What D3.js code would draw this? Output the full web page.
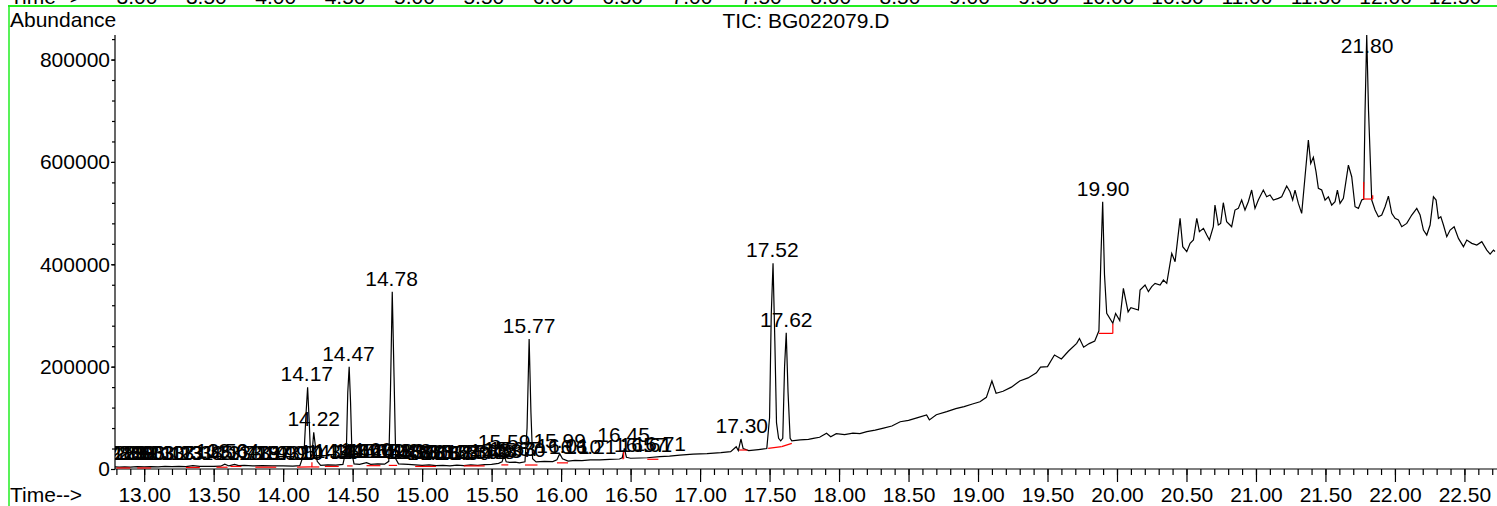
<!DOCTYPE html>
<html>
<head>
<meta charset="utf-8">
<script src="https://cdn.jsdelivr.net/npm/d3@7"></script>
<style>
  body { margin: 0; background: #fff; }
  svg { display: block; font-family: "Liberation Sans", Arial, sans-serif; }
</style>
</head>
<body>
<script>
// chromatogram trace (minutes, abundance)
var traceTime = [12.79,12.82,12.86,12.90,12.95,13.00,13.05,13.10,13.15,13.20,13.25,13.30,13.35,13.40,13.45,13.50,13.55,13.58,13.61,13.65,13.68,13.72,13.78,13.85,13.92,14.00,14.07,14.12,
  14.15,14.165,14.176,14.188,14.198,14.208,14.22,14.232,14.245,14.27,14.32,14.38,14.43,14.455,14.465,14.475,14.485,14.495,14.51,14.55,14.60,14.63,14.68,14.73,14.76,14.772,14.785,14.798,14.81,14.83,
  14.90,14.95,15.00,15.05,15.10,15.15,15.20,15.25,15.30,15.35,15.40,15.45,15.50,15.55,15.575,15.59,15.605,15.63,15.67,15.70,15.74,15.755,15.77,15.783,15.795,15.82,15.88,15.94,15.97,15.99,16.01,
  16.05,16.10,16.15,16.21,16.28,16.35,16.42,16.44,16.455,16.47,16.50,16.57,16.62,16.71,16.78,16.855,16.95,17.05,17.15,17.22,17.26,17.275,17.294,17.31,17.35,17.42,17.48,17.50,17.512,17.525,17.538,
  17.55,17.565,17.58,17.595,17.608,17.62,17.633,17.648,17.66,17.72,17.78,17.815,17.86,17.91,17.94,17.98,18.04,18.10,18.15,18.20,18.26,18.32,18.38,18.44,18.50,18.56,18.63,18.65,18.70,18.775,18.84,
  18.90,18.96,19.014,19.06,19.10,19.13,19.18,19.24,19.30,19.36,19.42,19.45,19.50,19.55,19.60,19.65,19.71,19.73,19.76,19.80,19.84,19.87,19.885,19.897,19.91,19.926,19.97,19.99,20.02,20.046,20.08,
  20.10,20.154,20.166,20.202,20.226,20.250,20.274,20.310,20.334,20.358,20.394,20.418,20.454,20.473,20.502,20.526,20.550,20.574,20.593,20.622,20.646,20.665,20.693,20.705,20.729,20.746,20.765,20.789,
  20.813,20.825,20.849,20.873,20.897,20.921,20.945,20.969,20.993,21.017,21.053,21.077,21.101,21.125,21.161,21.185,21.221,21.245,21.264,21.281,21.305,21.329,21.353,21.377,21.394,21.413,21.432,21.449,
  21.473,21.497,21.521,21.545,21.569,21.586,21.605,21.629,21.665,21.689,21.713,21.737,21.761,21.775,21.785,21.797,21.81,21.833,21.857,21.881,21.905,21.929,21.953,21.977,22.001,22.025,22.049,22.085,
  22.121,22.157,22.181,22.205,22.229,22.253,22.277,22.296,22.313,22.33,22.349,22.373,22.397,22.426,22.457,22.493,22.517,22.553,22.589,22.625,22.661,22.685,22.709,22.72];
var traceAbund = [4000,3500,4200,3600,4500,4000,4800,4200,5000,4500,5200,4800,6500,5000,5200,5000,5500,9500,6000,9000,6500,7000,6000,6500,6000,6000,5500,6500,
  30000,110000,159600,90000,20000,30000,71700,45000,15000,7000,8000,7500,9000,40000,150000,199800,130000,30000,10000,9000,12500,9000,10000,9500,15000,150000,346400,180000,20000,10000,
  9000,8000,7000,8000,6500,7000,6000,7500,6500,8000,7000,8500,9000,11000,14000,27000,14000,13000,13500,12000,14000,80000,254000,110000,20000,14000,15000,14500,18000,30000,20000,
  15500,17000,16500,18000,18000,19000,19500,22000,40500,23000,21000,21500,22000,24000,25000,27000,29000,30000,32000,34000,43600,36000,58600,40000,36000,38000,40000,100000,300000,401800,250000,
  90000,60000,55000,60000,200000,266300,150000,60000,55000,57000,58000,60000,62000,69700,63000,69000,67000,70000,69000,73000,76000,80000,84000,92400,95000,100000,105500,96000,106000,112000,118000,
  122000,127000,131500,140000,172000,148000,152000,160000,172000,178000,188000,199000,200000,222700,215000,230000,245500,255000,238000,245000,250000,270000,420000,522200,380000,304000,284600,304000,290000,353000,307000,
  315000,310600,349700,359500,346500,356200,362700,359500,369200,362700,421300,405000,489700,434400,424600,440900,447400,489700,463700,470200,457100,447400,473400,515700,476700,479900,520300,483200,
  476700,473400,506000,509200,525500,506000,522300,545100,509200,525500,545100,532000,535300,525500,528800,532000,552900,541800,525500,545100,519000,499500,571100,642700,597100,608900,580900,548300,
  545100,525500,532000,515700,522300,545100,519000,528800,593900,571100,512500,509200,525500,527500,700000,847900,700000,525500,506000,493000,496200,512500,533300,499500,489700,486500,473400,479900,
  496200,509200,496200,466900,457100,476700,532000,525500,489700,493000,476700,453900,466900,473400,450600,434400,447400,440900,437600,444100,427800,420000,427800,425000];

// integration baselines (red): start time, start abundance, end time, end abundance
var baseStart = [12.80,12.95,13.30,13.52,13.62,13.80,14.10,14.20,14.30,14.46,14.60,14.76,14.95,15.30,15.57,15.74,15.97,16.44,16.62,17.28,17.49,17.587,19.87,21.775];
var baseStartV = [2000,2000,3000,3500,5000,3500,3500,4000,5000,6000,6500,7000,5000,6000,8000,7800,12000,20000,19000,37100,40400,43600,265000,527500];
var baseEnd = [12.90,13.05,13.40,13.60,13.70,13.95,14.20,14.26,14.40,14.50,14.70,14.82,15.10,15.45,15.62,15.83,16.05,16.45,16.70,17.34,17.587,17.66,19.97,21.84];
var baseEndV = [2000,2000,3000,3500,5000,3500,4000,4000,5000,6000,6500,7000,5000,6000,8000,7800,12000,20000,19000,37100,43600,50200,265000,527500];
// short vertical red ticks at ends of some baselines
var dropTime = [14.207,16.45,19.97,21.775,21.84];
var dropLow = [4000,20000,265000,527500,527500];
var dropHigh = [13000,33000,284000,561000,535000];

// peak labels: retention time, apex abundance
var peakTimes = [12.80,12.83,12.86,12.89,12.92,12.96,13.03,13.10,13.17,13.23,13.31,13.38,13.45,13.56,13.64,13.71,13.79,13.87,13.93,13.99,14.05,14.10,
  14.17,14.22,14.31,14.36,14.41,14.47,14.52,14.56,14.60,14.65,14.69,14.73,14.78,14.83,14.88,14.93,14.98,15.03,15.08,15.13,15.18,15.24,15.30,15.36,15.42,15.48,15.53,
  15.59,15.63,15.67,15.70,15.77,15.99,16.01,16.10,16.21,16.45,16.57,16.61,16.71,17.30,17.52,17.62,19.90,21.80];
var peakTops = [5000,5000,5000,5000,5000,5000,5000,5000,5000,5000,6000,5000,5000,9500,9000,6500,6000,6500,6000,6000,5500,6500,
  159600,71700,8000,7500,9000,199800,10000,9000,12500,10000,10000,9500,346400,10000,9000,8500,7000,8000,6500,7000,6000,7500,6500,8000,7000,8500,10000,
  27000,13000,13500,12000,254000,30000,20000,17000,18000,40500,21500,22000,24000,58600,401800,266300,522200,847900];

var yTicks = [0,200000,400000,600000,800000];
var oldTicks = [3.00,3.50,4.00,4.50,5.00,5.50,6.00,6.50,7.00,7.50,8.00,8.50,9.00,9.50,10.00,10.50,11.00,11.50,12.00,12.50];

var W = 1497, H = 506, FS = 21;

function main() {
  var svg = d3.select("body").append("svg")
    .attr("width", W)
    .attr("height", H);

  var x = d3.scaleLinear().domain([12.79, 22.72]).range([115, 1495]);
  var y = d3.scaleLinear().domain([0, 848000]).range([469, 35]);
  var fmt = d3.format(".2f");

  // remains of the panel above (clipped)
  var xOld = d3.scaleLinear().domain([3, 12.5]).range([137, 1455]);
  svg.selectAll("text.old")
    .data(oldTicks)
    .enter().append("text")
    .attr("class", "old")
    .attr("x", function(d) { return xOld(d); })
    .attr("y", 4)
    .attr("text-anchor", "middle")
    .attr("font-size", FS)
    .text(fmt);
  svg.append("text").attr("x", 10).attr("y", 4).attr("font-size", FS).text("Time-->");

  svg.append("line").attr("x1", 8).attr("x2", W).attr("y1", 6).attr("y2", 6)
    .attr("stroke", "#22ee22").attr("stroke-width", 2);
  svg.append("line").attr("x1", 9).attr("x2", 9).attr("y1", 6).attr("y2", H)
    .attr("stroke", "#22ee22").attr("stroke-width", 1.5);

  svg.append("text").attr("x", 10).attr("y", 27).attr("font-size", FS).text("Abundance");
  svg.append("text").attr("x", 806).attr("y", 28).attr("font-size", FS)
    .attr("text-anchor", "middle").text("TIC: BG022079.D");
  svg.append("text").attr("x", 10).attr("y", 502).attr("font-size", FS).text("Time-->");

  // axes
  var yAxis = svg.append("g").attr("transform", "translate(115,0)")
    .call(d3.axisLeft(y).tickValues(yTicks).tickSize(4).tickPadding(1).tickFormat(d3.format("d")));
  svg.append("g").attr("transform", "translate(115,0)")
    .call(d3.axisLeft(y).tickValues(d3.range(40000, 848001, 40000)).tickSize(3).tickFormat(""));
  yAxis.selectAll("text").attr("font-size", FS).attr("font-family", null).attr("fill", "#000");

  var xMajor = d3.range(13, 22.51, 0.5);
  var xMinor = d3.range(128, 228, 1).map(function(d) { return d / 10; });
  var xAxis = svg.append("g").attr("transform", "translate(0,469)")
    .call(d3.axisBottom(x).tickValues(xMajor).tickSize(13).tickFormat(fmt));
  svg.append("g").attr("transform", "translate(0,469)")
    .call(d3.axisBottom(x).tickValues(xMinor).tickSize(6).tickFormat(""));
  xAxis.selectAll("text").attr("font-size", FS).attr("font-family", null)
    .attr("fill", "#000").attr("y", 33).attr("dy", 0);
  svg.selectAll(".tick line").attr("stroke", "#000").attr("stroke-width", 1.2);
  // plain axis lines
  svg.selectAll(".domain").remove();
  svg.append("line").attr("x1", 115).attr("x2", W).attr("y1", 469).attr("y2", 469)
    .attr("stroke", "#000").attr("stroke-width", 1.2);
  svg.append("line").attr("x1", 115).attr("x2", 115).attr("y1", 35).attr("y2", 469)
    .attr("stroke", "#000").attr("stroke-width", 1.2);

  svg.append("clipPath").attr("id", "plot")
    .append("rect").attr("x", 115).attr("y", 0).attr("width", W - 115).attr("height", 470);
  var plot = svg.append("g").attr("clip-path", "url(#plot)");

  var pts = traceTime.map(function(t, i) { return [t, traceAbund[i]]; });
  var line = d3.line()
    .x(function(d) { return x(d[0]); })
    .y(function(d) { return y(d[1]); });

  plot.append("path")
    .datum(pts)
    .attr("d", line)
    .attr("fill", "none")
    .attr("stroke", "#000")
    .attr("stroke-width", 1.2);

  plot.selectAll("line.base")
    .data(baseStart)
    .enter().append("line")
    .attr("class", "base")
    .attr("x1", function(d) { return x(d); })
    .attr("y1", function(d, i) { return y(baseStartV[i]); })
    .attr("x2", function(d, i) { return x(baseEnd[i]); })
    .attr("y2", function(d, i) { return y(baseEndV[i]); })
    .attr("stroke", "#ff0000")
    .attr("stroke-width", 1.2);

  plot.selectAll("line.drop")
    .data(dropTime)
    .enter().append("line")
    .attr("class", "drop")
    .attr("x1", function(d) { return x(d); })
    .attr("x2", function(d) { return x(d); })
    .attr("y1", function(d, i) { return y(dropLow[i]); })
    .attr("y2", function(d, i) { return y(dropHigh[i]); })
    .attr("stroke", "#ff0000")
    .attr("stroke-width", 1.2);

  plot.selectAll("text.peak")
    .data(peakTimes)
    .enter().append("text")
    .attr("class", "peak")
    .attr("x", function(d) { return x(d); })
    .attr("y", function(d, i) { return Math.max(y(peakTops[i]) - 6, 53); })
    .attr("text-anchor", "middle")
    .attr("font-size", FS)
    .text(fmt);
}
main();
</script>
</body>
</html>
